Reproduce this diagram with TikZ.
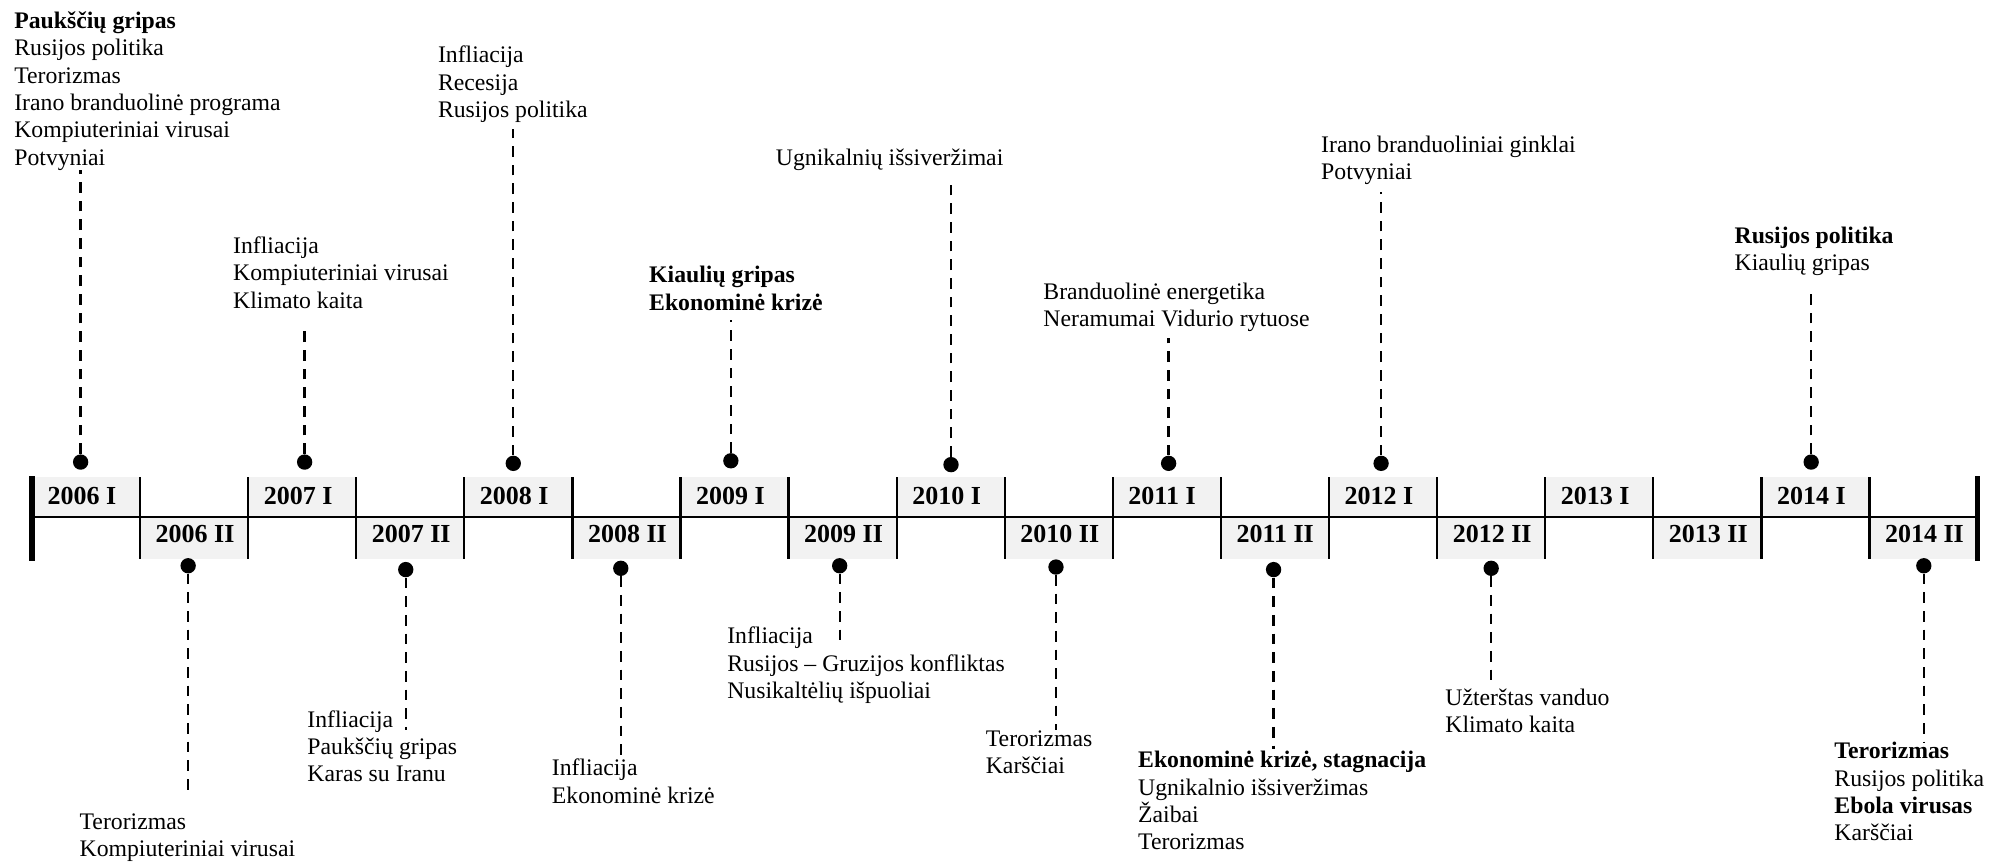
\documentclass[tikz,border=0pt]{standalone}
\usepackage{fontspec}
\setmainfont{Liberation Serif}
\definecolor{cellgray}{RGB}{242,242,242}
\begin{document}
\begin{tikzpicture}[x=0.96pt,y=-0.96pt,
  lbl/.style={anchor=base west, inner sep=0pt, align=left, font=\fontsize{17.8}{20.5}\selectfont},
  yr/.style={anchor=base west, inner sep=0pt, font=\fontsize{19.5}{20}\selectfont\bfseries},
  dot/.style={circle, fill=black, inner sep=0pt, minimum size=11.5pt},
  dashln/.style={line width=1.75pt, dash pattern=on 8pt off 6pt},
  gridln/.style={line width=1.7pt},
  endbar/.style={line width=4pt}]
\useasboundingbox (0,0) rectangle (1568,673.5);

% band cells and period labels
\foreach \i in {0,...,17}{
  \pgfmathsetmacro\xa{25+\i*84.444}
  \pgfmathtruncatemacro\yr{2006+floor(\i/2)}
  \pgfmathtruncatemacro\odd{mod(\i,2)}
  \ifnum\odd=0
    \fill[cellgray] (\xa,373) rectangle ++(84.444,31);
    \node[yr] (y\i) at (\xa+12,394) {\yr\ I};
  \else
    \fill[cellgray] (\xa,404) rectangle ++(84.444,33);
    \node[yr] (y\i) at (\xa+12,424) {\yr\ II};
  \fi
}
\draw[gridln] (25,404) -- (1545,404);
\foreach \k in {1,...,17}{
  \draw[gridln] (25+\k*84.444,373) -- ++(0,64);
}
\draw[endbar] (25,372) -- (25,438);
\draw[endbar] (1545,372) -- (1545,438);

% upper labels (anchored at the baseline of the last line)
\node[lbl] (l06I) at (11,129) {\textbf{Paukščių gripas}\\Rusijos politika\\Terorizmas\\Irano branduolinė programa\\Kompiuteriniai virusai\\Potvyniai};
\node[lbl] (l07I) at (182,240.7) {Infliacija\\Kompiuteriniai virusai\\Klimato kaita};
\node[lbl] (l08I) at (342,91.7) {Infliacija\\Recesija\\Rusijos politika};
\node[lbl] (l09I) at (507,242.4) {\textbf{Kiaulių gripas}\\\textbf{Ekonominė krizė}};
\node[lbl] (l10I) at (606,129) {Ugnikalnių išsiveržimai};
\node[lbl] (l11I) at (815,255.4) {Branduolinė energetika\\Neramumai Vidurio rytuose};
\node[lbl] (l12I) at (1032,140.4) {Irano branduoliniai ginklai\\Potvyniai};
\node[lbl] (l14I) at (1355,211.4) {\textbf{Rusijos politika}\\Kiaulių gripas};

% lower labels
\node[lbl] (l06II) at (62,669.4) {Terorizmas\\Kompiuteriniai virusai};
\node[lbl] (l07II) at (240,610.7) {Infliacija\\Paukščių gripas\\Karas su Iranu};
\node[lbl] (l08II) at (431,627.4) {Infliacija\\Ekonominė krizė};
\node[lbl] (l09II) at (568,545.7) {Infliacija\\Rusijos -- Gruzijos konfliktas\\Nusikaltėlių išpuoliai};
\node[lbl] (l10II) at (770,604.4) {Terorizmas\\Karščiai};
\node[lbl] (l11II) at (889,664) {\textbf{Ekonominė krizė, stagnacija}\\Ugnikalnio išsiveržimas\\Žaibai\\Terorizmas};
\node[lbl] (l12II) at (1129,572.4) {Užterštas vanduo\\Klimato kaita};
\node[lbl] (l14II) at (1433,657) {\textbf{Terorizmas}\\Rusijos politika\\\textbf{Ebola virusas}\\Karščiai};

% dots
\node[dot] (d06I) at (63,361) {};
\node[dot] (d07I) at (238,361) {};
\node[dot] (d08I) at (401,362) {};
\node[dot] (d09I) at (571,360) {};
\node[dot] (d10I) at (743,363) {};
\node[dot] (d11I) at (913,362) {};
\node[dot] (d12I) at (1079,362) {};
\node[dot] (d14I) at (1415,361) {};
\node[dot] (d06II) at (147,442) {};
\node[dot] (d07II) at (317,445) {};
\node[dot] (d08II) at (485,444) {};
\node[dot] (d09II) at (656,442) {};
\node[dot] (d10II) at (825,443) {};
\node[dot] (d11II) at (995,445) {};
\node[dot] (d12II) at (1165,444) {};
\node[dot] (d14II) at (1503,442) {};

% connector ends
\coordinate (e06I) at (63,133);
\coordinate (e07I) at (238,256);
\coordinate (e08I) at (401,101);
\coordinate (e09I) at (571,250);
\coordinate (e10I) at (743,140);
\coordinate (e11I) at (913,264);
\coordinate (e12I) at (1079,150);
\coordinate (e14I) at (1415,226);
\coordinate (e06II) at (147,622);
\coordinate (e07II) at (317,570);
\coordinate (e08II) at (485,590);
\coordinate (e09II) at (656,505);
\coordinate (e10II) at (825,570);
\coordinate (e11II) at (995,585);
\coordinate (e12II) at (1165,535);
\coordinate (e14II) at (1503,580);

\foreach \n in {06I,07I,08I,09I,10I,11I,12I,14I,06II,07II,08II,09II,10II,11II,12II,14II}{
  \draw[dashln] (d\n) -- (e\n);
}
\end{tikzpicture}
\end{document}
